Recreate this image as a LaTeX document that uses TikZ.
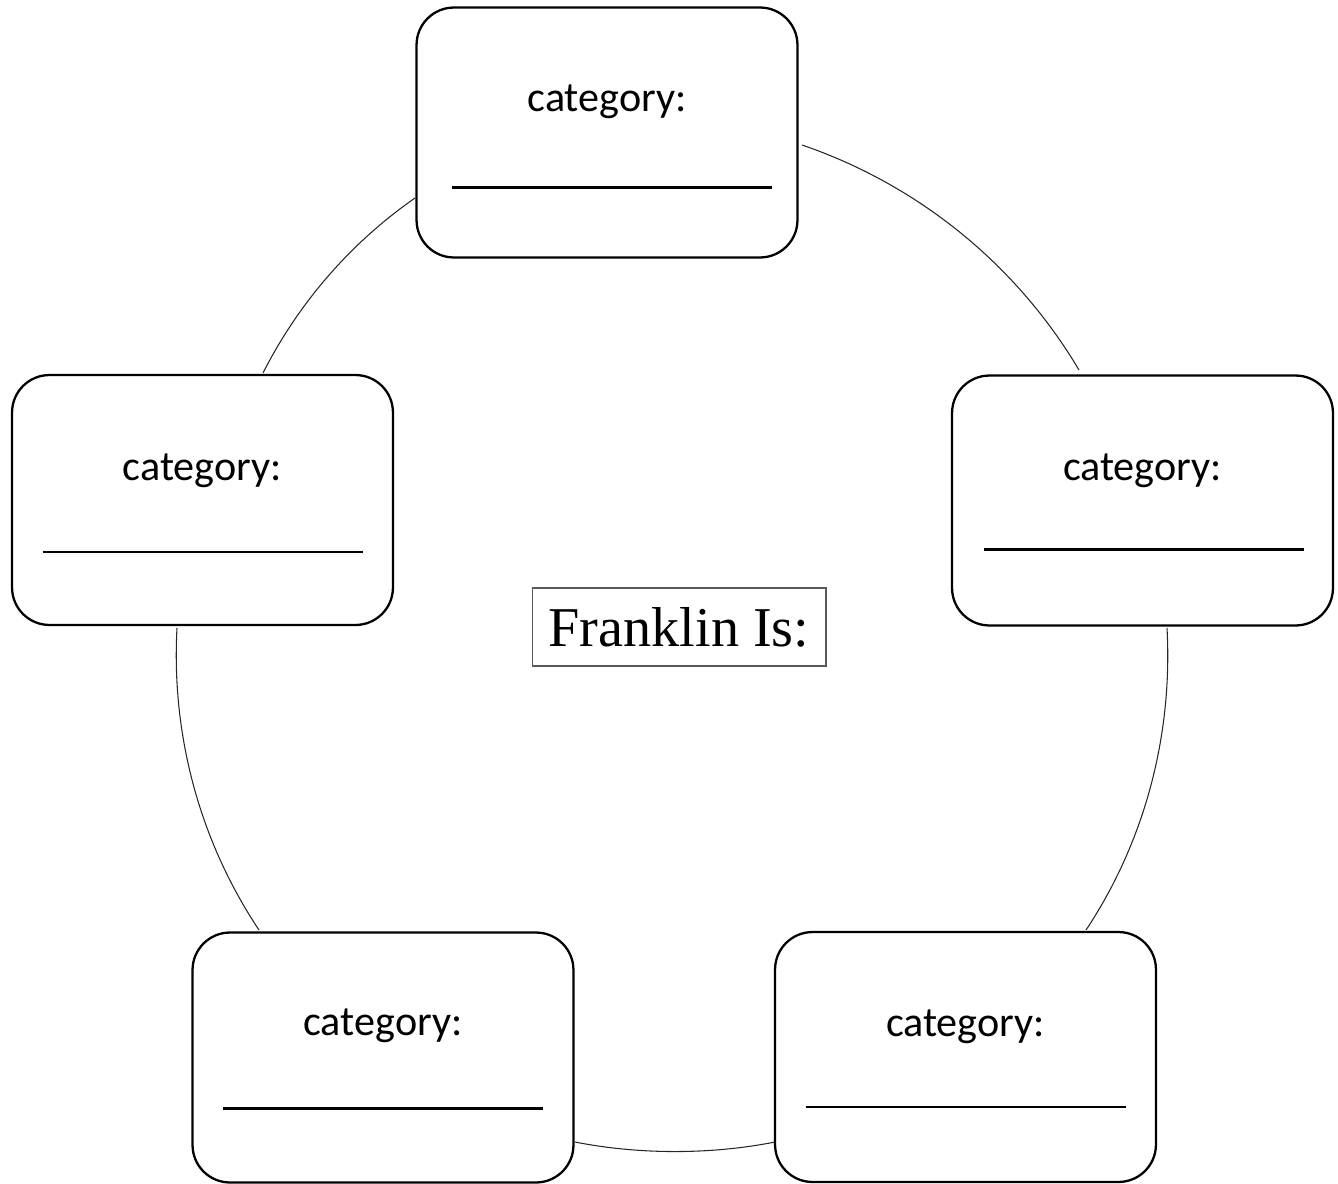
\documentclass[tikz,border=0pt]{standalone}
\usepackage{fontspec}
\setmainfont{Liberation Serif}
\newfontfamily\catfont{Carlito}
\usetikzlibrary{calc}
\begin{document}
\begin{tikzpicture}[x=0.02cm,y=-0.02cm,
  catbox/.style={draw=black,line width=1.3pt,fill=white,rounded corners=0.75cm,
    minimum width=7.62cm,minimum height=5cm,inner sep=0pt},
  cattext/.style={anchor=base,font=\catfont\fontsize{24}{28}\selectfont,inner sep=0pt},
  blankline/.style={line width=1.3pt},
  ring/.style={line width=0.6pt,draw=black!85},
  centerbox/.style={draw=black!65,line width=0.6pt,fill=white,minimum width=5.88cm,
    minimum height=1.56cm,inner sep=0pt,font=\fontsize{32}{36}\selectfont}]
\useasboundingbox (0,0) rectangle (1338,1183);

% ring arcs (drawn first, boxes cover their ends)
\coordinate (a1) at (415,198);
\coordinate (a1k) at (350.6,242.9);
\coordinate (a2k) at (298.5,303.0);
\coordinate (a2) at (263,373);
\draw[ring] (a1) .. controls (a1k) and (a2k) .. (a2);

\coordinate (b1) at (802,145);
\coordinate (b1k) at (918.2,184.8);
\coordinate (b2k) at (1016.3,264.4);
\coordinate (b2) at (1079,370);
\draw[ring] (b1) .. controls (b1k) and (b2k) .. (b2);

\coordinate (c1) at (1167,628);
\coordinate (c1k) at (1172.8,734.6);
\coordinate (c2k) at (1145.1,841.0);
\coordinate (c2) at (1086,930);
\draw[ring] (c1) .. controls (c1k) and (c2k) .. (c2);

\coordinate (d1) at (775,1142);
\coordinate (d1k) at (711.1,1154.7);
\coordinate (d2k) at (638.9,1154.7);
\coordinate (d2) at (575,1142);
\draw[ring] (d1) .. controls (d1k) and (d2k) .. (d2);

\coordinate (e1) at (259,930);
\coordinate (e1k) at (199.6,840.9);
\coordinate (e2k) at (171.2,734.9);
\coordinate (e2) at (177,628);
\draw[ring] (e1) .. controls (e1k) and (e2k) .. (e2);

% category boxes
\node[catbox] (top) at (607,132.5) {};
\node[catbox] (left) at (202.5,500) {};
\node[catbox] (right) at (1142.5,500.5) {};
\node[catbox] (bl) at (383,1057.5) {};
\node[catbox] (br) at (965.5,1057) {};

\foreach \b/\dx/\dy/\ty in {top/5/55/-21,left/0/52/-20,right/1/49/-20,bl/0/51/-22,br/0/50/-21}{
  \node[cattext] (\b-txt) at ($(\b.center)+(0,\ty)$) {category:};
  \draw[blankline] ($(\b.center)+(-160+\dx,\dy)$) -- ($(\b.center)+(160+\dx,\dy)$);
}

% center
\node[centerbox] (franklin) at (679,627) {Franklin Is:};
\end{tikzpicture}
\end{document}
